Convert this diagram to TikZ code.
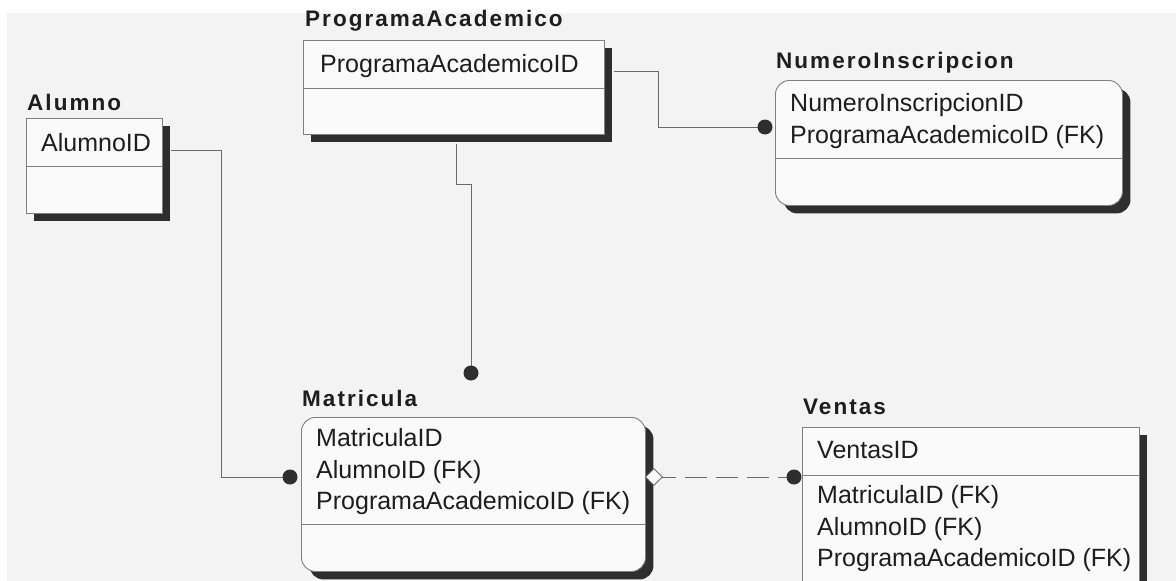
\documentclass[tikz,border=0pt]{standalone}
\usepackage{fontspec}
\setmainfont{Liberation Sans}
\newfontfamily\titlefont[LetterSpace=9]{Liberation Sans Bold}
\usetikzlibrary{calc,shadows,shapes.geometric}
\definecolor{bgc}{HTML}{F3F3F3}
\definecolor{boxfill}{HTML}{FAFAFA}
\definecolor{boxline}{HTML}{808080}
\definecolor{connc}{HTML}{6A6A6A}
\definecolor{shadowc}{HTML}{2E2E2E}
\definecolor{txtc}{HTML}{1E1E1E}
\begin{document}
\begin{tikzpicture}[x=1pt,y=-1pt,
  ent/.style={draw=boxline, fill=boxfill, line width=0.9pt, inner sep=0pt, anchor=north west,
    drop shadow={shadow xshift=8pt, shadow yshift=-8pt, fill=shadowc, opacity=1}},
  rent/.style={ent, rounded corners=14pt},
  divline/.style={draw=boxline, line width=0.9pt},
  ttl/.style={anchor=west, inner sep=0pt, text=txtc, font=\titlefont\fontsize{22.5}{26}\selectfont},
  attr/.style={anchor=west, inner sep=0pt, text=txtc, align=left, font=\fontsize{25}{31.5}\selectfont},
  conn/.style={draw=connc, line width=0.9pt},
  dotc/.style={circle, fill=shadowc, minimum size=15pt, inner sep=0pt},
  dmd/.style={diamond, draw=connc, fill=white, line width=0.8pt, minimum size=17pt, inner sep=0pt},
  dashc/.style={conn, dash pattern=on 22pt off 9pt}
]
\useasboundingbox (0,0) rectangle (1176,581);
\fill[white] (0,0) rectangle (1176,581);
\fill[bgc] (7,13) rectangle (1176,581);

% entities
\node[ent, minimum width=136pt, minimum height=95pt] (alu) at (26,118) {};
\node[ent, minimum width=301pt, minimum height=94pt] (prog) at (303,40) {};
\node[rent, minimum width=347pt, minimum height=125pt] (num) at (775,80) {};
\node[rent, minimum width=344pt, minimum height=154pt] (mat) at (301,417) {};
\node[ent, minimum width=337pt, minimum height=185pt] (ven) at (802,427) {};

% dividers
\draw[divline] (alu.west |- 0,166) -- (alu.east |- 0,166);
\draw[divline] (prog.west |- 0,88) -- (prog.east |- 0,88);
\draw[divline] (num.west |- 0,158) -- (num.east |- 0,158);
\draw[divline] (mat.west |- 0,524) -- (mat.east |- 0,524);
\draw[divline] (ven.west |- 0,475) -- (ven.east |- 0,475);

% titles
\node[ttl] (t-alu) at (27,102) {Alumno};
\node[ttl] (t-prog) at (305,21) {ProgramaAcademico};
\node[ttl] (t-num) at (776,63) {NumeroInscripcion};
\node[ttl] (t-mat) at (302,398) {Matricula};
\node[ttl] (t-ven) at (803,407) {Ventas};

% attributes
\node[attr] (a-alu) at (41,143) {AlumnoID};
\node[attr] (a-prog) at (320,66) {ProgramaAcademicoID};
\node[attr] (a-num) at (790,121) {NumeroInscripcionID\\ProgramaAcademicoID (FK)};
\node[attr] (a-mat) at (316,472) {MatriculaID\\AlumnoID (FK)\\ProgramaAcademicoID (FK)};
\node[attr] (a-ven1) at (817,450) {VentasID};
\node[attr] (a-ven2) at (817,529) {MatriculaID (FK)\\AlumnoID (FK)\\ProgramaAcademicoID (FK)};

% connector end points
\coordinate (pA) at ($(mat.north west)+(-11,60)$);
\coordinate (pP) at ($(mat.north west)+(170,-44)$);
\coordinate (pN) at ($(num.north west)+(-10,47)$);
\coordinate (pV) at ($(ven.north west)+(-8,50)$);
\coordinate (pM) at ($(mat.north east)+(8,60)$);
\coordinate (sA) at ($(alu.north east)+(8,32)$);
\coordinate (sP) at ($(prog.south west)+(153,9)$);
\coordinate (sN) at ($(prog.north east)+(9,31)$);

% connectors
\draw[conn] (sA) -| ([xshift=-69pt]pA) -- (pA);
\draw[conn] (sP) -- ++(0,41) -| (pP);
\draw[conn] (sN) -| ([xshift=-107pt]pN) -- (pN);
\draw[dashc] (pM) -- (pV);

% connector ends
\node[dotc] (dA) at (pA) {};
\node[dotc] (dP) at (pP) {};
\node[dotc] (dN) at (pN) {};
\node[dotc] (dV) at (pV) {};
\node[dmd] (dM) at (pM) {};
\end{tikzpicture}
\end{document}
